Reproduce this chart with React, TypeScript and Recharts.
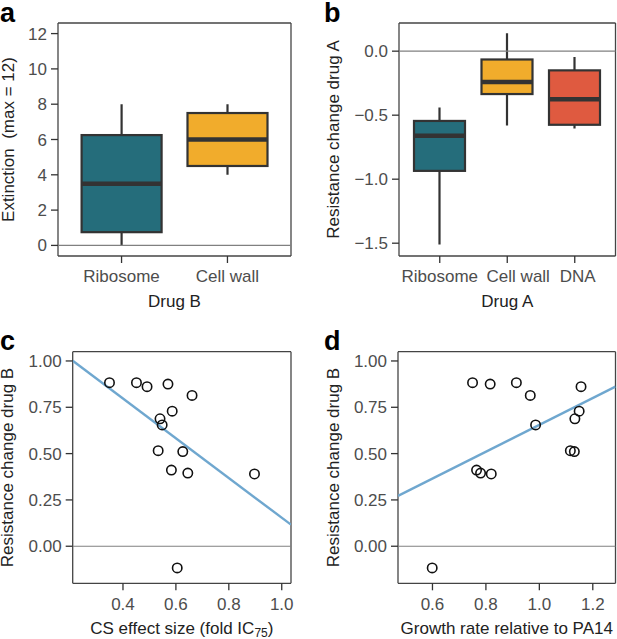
import React from "react";
import {
  BarChart, Bar, ScatterChart, Scatter, XAxis, YAxis, CartesianGrid, ReferenceLine,
} from "recharts";

// panel a: extinction by drug B target
const drugBCategories = ["Ribosome", "Cell wall"];
const extinctionMin = [0, 4];
const extinctionQ1 = [0.75, 4.5];
const extinctionMedian = [3.5, 6];
const extinctionQ3 = [6.25, 7.5];
const extinctionMax = [8, 8];
const extinctionTicks = [0, 2, 4, 6, 8, 10, 12];

// panel b: resistance change of drug A by drug A target
const drugACategories = ["Ribosome", "Cell wall", "DNA"];
const resistAMin = [-1.51, -0.58, -0.605];
const resistAQ1 = [-0.935, -0.335, -0.575];
const resistAMedian = [-0.66, -0.24, -0.375];
const resistAQ3 = [-0.545, -0.065, -0.15];
const resistAMax = [-0.44, 0.14, -0.045];
const resistATicks = [-1.5, -1.0, -0.5, 0];

const boxColors = ["#256d7b", "#f1ac2c", "#df5a40"];

// panels c and d: same strains, resistance change of drug B
const resistB = [0.883, 0.883, 0.861, 0.875, 0.814, 0.729, 0.688, 0.655, 0.516, 0.511, 0.411, 0.395, 0.39, -0.117];
const csEffect = [0.349, 0.451, 0.491, 0.57, 0.661, 0.586, 0.54, 0.548, 0.533, 0.626, 0.583, 0.645, 0.897, 0.605];
const growthRate = [0.75, 0.914, 1.156, 0.816, 0.966, 1.149, 1.133, 0.986, 1.116, 1.131, 0.765, 0.78, 0.82, 0.599];
const resistBTicks = [0, 0.25, 0.5, 0.75, 1];
const csTicks = [0.4, 0.6, 0.8, 1.0];
const growthTicks = [0.6, 0.8, 1.0, 1.2];

// linear fits
const csFit = { intercept: 1.226, slope: -1.072 };
const growthFit = { intercept: -0.07, slope: 0.725 };

const csDomain: [number, number] = [0.21, 1.035];
const growthDomain: [number, number] = [0.471, 1.285];

const FONT = "'Liberation Sans', Arial, sans-serif";
const DARK = "#333333";
const tickStyle = { fill: "#4d4d4d", fontSize: 17, fontFamily: FONT };

const boxRows = (cats: string[], mn: number[], q1: number[], md: number[], q3: number[], mx: number[]) =>
  cats.map((cat, i) => ({
    cat, box: [q1[i], q3[i]], min: mn[i], q1: q1[i], median: md[i], q3: q3[i], max: mx[i], color: boxColors[i],
  }));

const extinctionData = boxRows(drugBCategories, extinctionMin, extinctionQ1, extinctionMedian, extinctionQ3, extinctionMax);
const resistAData = boxRows(drugACategories, resistAMin, resistAQ1, resistAMedian, resistAQ3, resistAMax);

const csData = csEffect.map((x, i) => ({ x, y: resistB[i] }));
const growthData = growthRate.map((x, i) => ({ x, y: resistB[i] }));

const fitSegment = (fit: { intercept: number; slope: number }, d: [number, number]) =>
  d.map((x) => ({ x, y: fit.intercept + fit.slope * x }));

const BoxShape = (props: any) => {
  const { x, y, width, height, payload } = props;
  const top = Math.min(y, y + height);
  const h = Math.abs(height);
  const unit = h / (payload.q3 - payload.q1);
  const py = (v: number) => top + (payload.q3 - v) * unit;
  const cx = x + width / 2;
  return (
    <g>
      <line x1={cx} x2={cx} y1={py(payload.max)} y2={py(payload.min)} stroke={DARK} strokeWidth={2.2} />
      <rect x={x} y={top} width={width} height={h} fill={payload.color} stroke={DARK} strokeWidth={2.2} />
      <line x1={x} x2={x + width} y1={py(payload.median)} y2={py(payload.median)} stroke={DARK} strokeWidth={4.5} />
    </g>
  );
};

const Ring = (props: any) => (
  <circle cx={props.cx} cy={props.cy} r={4.7} fill="none" stroke="#111" strokeWidth={1.6} />
);

// category labels nudged apart like in the original figure
const CatTick = (props: any) => {
  const { x, y, payload, shifts } = props;
  const dx = (shifts && shifts[payload.index]) || 0;
  return (
    <text x={x + dx} y={y} dy="0.71em" textAnchor="middle" {...tickStyle}>
      {payload.value}
    </text>
  );
};

const YTitle = (props: any) => {
  const { viewBox, text, dist } = props;
  const x = viewBox.x + viewBox.width - dist;
  const y = viewBox.y + viewBox.height / 2;
  return (
    <text x={x} y={y} transform={`rotate(-90 ${x} ${y})`} textAnchor="middle" dominantBaseline="central"
      fill="#222" fontSize={17} fontFamily={FONT} style={{ whiteSpace: "pre" }}>
      {text}
    </text>
  );
};

const XTitle = (props: any) => {
  const { viewBox, children, dist } = props;
  return (
    <text x={viewBox.x + viewBox.width / 2} y={viewBox.y + dist} textAnchor="middle"
      fill="#222" fontSize={17} fontFamily={FONT}>
      {children}
    </text>
  );
};

const Frame = () => (
  <CartesianGrid
    stroke="#444" strokeWidth={1.3}
    horizontalCoordinatesGenerator={({ offset }: any) => [offset.top, offset.top + offset.height]}
    verticalCoordinatesGenerator={({ offset }: any) => [offset.left, offset.left + offset.width]}
  />
);

const minus = (s: string) => s.replace("-", "\u2212");

const Letter = ({ ch, left, top }: { ch: string; left: number; top: number }) => (
  <div style={{ position: "absolute", left, top, fontFamily: FONT, fontWeight: "bold", fontSize: 27, lineHeight: "27px", color: "#000" }}>
    {ch}
  </div>
);

const BoxPanel = ({ data, width, height, margin, ticks, domain, pad, barSize, yTitle, xTitle, yTickFmt, yDist, shifts }: any) => (
  <BarChart width={width} height={height} data={data} margin={margin}>
    <Frame />
    <ReferenceLine y={0} stroke="#808080" strokeWidth={1.2} />
    <XAxis dataKey="cat" padding={{ left: pad, right: pad }} axisLine={false} tickSize={7} tickMargin={7}
      tickLine={{ stroke: DARK, strokeWidth: 1.3 }} tick={<CatTick shifts={shifts} />} interval={0} height={50}
      label={<XTitle dist={51}>{xTitle}</XTitle>} />
    <YAxis type="number" domain={domain} ticks={ticks} allowDataOverflow axisLine={false} width={50}
      tickSize={7} tickMargin={4} tickLine={{ stroke: DARK, strokeWidth: 1.3 }} tick={tickStyle}
      tickFormatter={yTickFmt} label={<YTitle text={yTitle} dist={yDist} />} />
    <Bar dataKey="box" barSize={barSize} shape={<BoxShape />} isAnimationActive={false} />
  </BarChart>
);

const ScatterPanel = ({ data, width, margin, xDomain, xTicks, fit, xTitle, yDist }: any) => (
  <ScatterChart width={width} height={319} margin={margin}>
    <Frame />
    <XAxis type="number" dataKey="x" domain={xDomain} ticks={xTicks} allowDataOverflow axisLine={false}
      tickSize={7} tickMargin={8} tickLine={{ stroke: DARK, strokeWidth: 1.3 }} tick={tickStyle} height={50}
      tickFormatter={(v: number) => v.toFixed(1)} label={<XTitle dist={50.5}>{xTitle}</XTitle>} />
    <YAxis type="number" dataKey="y" domain={[-0.2, 1.05]} ticks={resistBTicks} allowDataOverflow axisLine={false}
      width={50} tickSize={7} tickMargin={4} tickLine={{ stroke: DARK, strokeWidth: 1.3 }} tick={tickStyle}
      tickFormatter={(v: number) => v.toFixed(2)} label={<YTitle text="Resistance change drug B" dist={yDist} />} />
    <ReferenceLine y={0} stroke="#808080" strokeWidth={1.2} />
    <ReferenceLine segment={fitSegment(fit, xDomain)} stroke="#6fa7cf" strokeWidth={2.4} ifOverflow="hidden" />
    <Scatter data={data} shape={<Ring />} isAnimationActive={false} />
  </ScatterChart>
);

export default function App() {
  return (
    <div style={{ position: "absolute", left: 0, top: 0, width: 617, height: 639, background: "#fff", overflow: "hidden" }}>
      <div style={{ position: "absolute", left: 0, top: 0 }}>
        <BoxPanel data={extinctionData} width={305} height={320}
          margin={{ top: 23, right: 14, left: 8, bottom: 14 }}
          ticks={extinctionTicks} domain={[-0.6, 12.6]} pad={10.6} barSize={80}
          yTitle={"Extinction  (max = 12)"} xTitle="Drug B" yDist={49.5}
          yTickFmt={(v: number) => String(v)} />
      </div>
      <div style={{ position: "absolute", left: 305, top: 0 }}>
        <BoxPanel data={resistAData} width={312} height={320}
          margin={{ top: 23, right: 1.5, left: 44, bottom: 14 }}
          ticks={resistATicks} domain={[-1.6, 0.22]} pad={7} barSize={51}
          yTitle="Resistance change drug A" xTitle="Drug A" yDist={66} shifts={[0, 11, 3]}
          yTickFmt={(v: number) => minus(v.toFixed(1))} />
      </div>
      <div style={{ position: "absolute", left: 0, top: 320 }}>
        <ScatterPanel data={csData} width={305} margin={{ top: 31.7, right: 14, left: 22.7, bottom: 5.7 }}
          xDomain={csDomain} xTicks={csTicks} fit={csFit} yDist={65}
          xTitle={[<tspan key="a">CS effect size (fold IC</tspan>, <tspan key="b" fontSize={12} dy={3}>75</tspan>, <tspan key="c" dy={-3}>)</tspan>]} />
      </div>
      <div style={{ position: "absolute", left: 305, top: 320 }}>
        <ScatterPanel data={growthData} width={312} margin={{ top: 31.7, right: 1.5, left: 43, bottom: 5.7 }}
          xDomain={growthDomain} xTicks={growthTicks} fit={growthFit} yDist={65}
          xTitle="Growth rate relative to PA14" />
      </div>
      <Letter ch="a" left={0} top={0} />
      <Letter ch="b" left={324} top={0} />
      <Letter ch="c" left={0} top={328} />
      <Letter ch="d" left={324} top={328} />
    </div>
  );
}
